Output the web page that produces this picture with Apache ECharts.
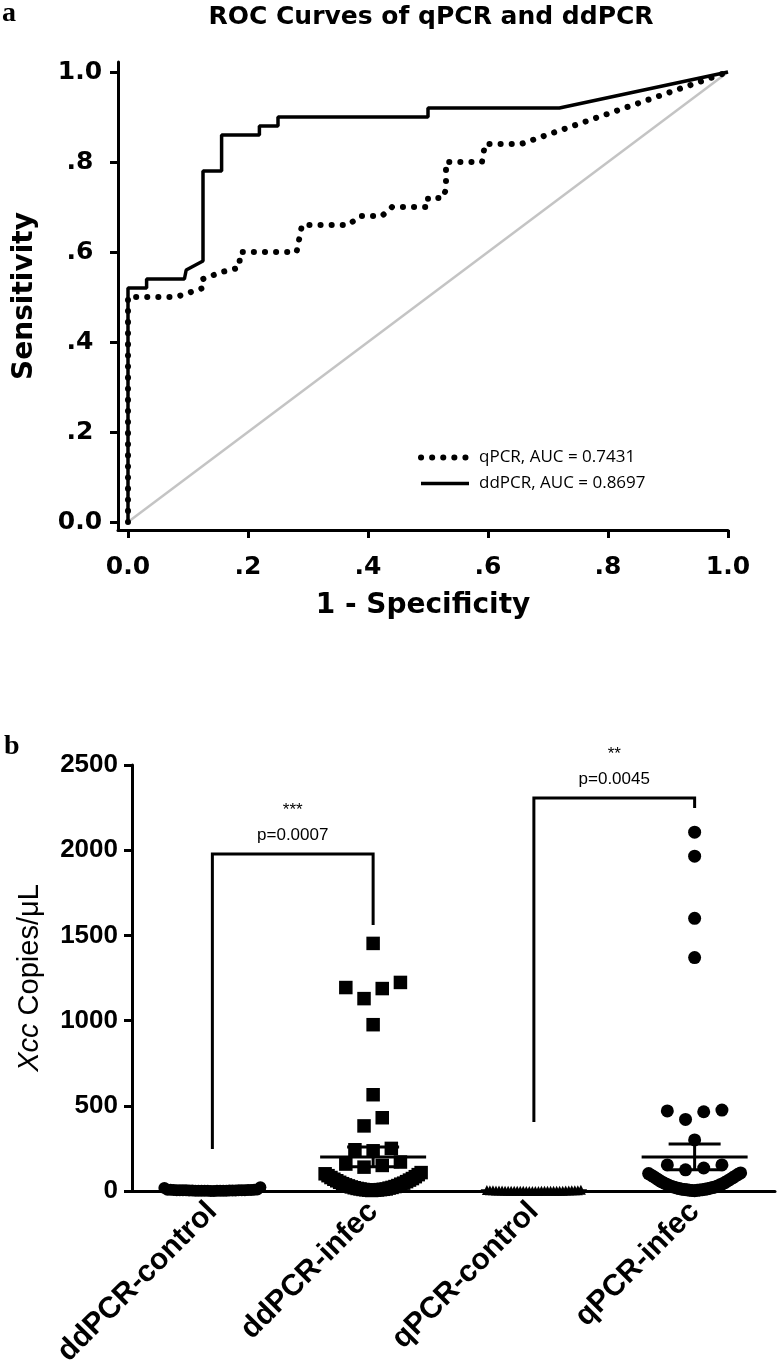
<!DOCTYPE html>
<html><head><meta charset="utf-8">
<script src="https://cdn.jsdelivr.net/npm/echarts@6/dist/echarts.min.js"></script>
<style>html,body{margin:0;padding:0;background:#fff}#c{width:779px;height:1370px}</style>
</head><body><div id="c"></div>
<script>
// ---------- Panel a : ROC curves ----------
const qpcrROC = [[0,0],[0,0.50],[0.08,0.50],[0.125,0.52],[0.125,0.54],[0.155,0.555],[0.185,0.565],[0.1875,0.60],[0.281,0.60],[0.29,0.66],[0.367,0.66],[0.387,0.68],[0.423,0.68],[0.44,0.70],[0.50,0.70],[0.50,0.72],[0.525,0.72],[0.53,0.74],[0.53,0.80],[0.59,0.80],[0.595,0.84],[0.655,0.84],[1,1]];
const ddpcrROC = [[0,0],[0,0.52],[0.031,0.52],[0.031,0.54],[0.094,0.54],[0.097,0.56],[0.125,0.58],[0.125,0.78],[0.156,0.78],[0.156,0.86],[0.219,0.86],[0.219,0.88],[0.25,0.88],[0.25,0.90],[0.5,0.90],[0.5,0.92],[0.719,0.92],[1,1]];
const chanceLine = [[0,0],[1,1]];
const rocTicks = [0,0.2,0.4,0.6,0.8,1.0];
const rocTickLabels = ['0.0','.2','.4','.6','.8','1.0'];
const rocNames = ['qPCR, AUC = 0.7431','ddPCR, AUC = 0.8697'];

// ---------- Panel b : copies per group ----------
const groups = ['ddPCR-control','ddPCR-infec','qPCR-control','qPCR-infec'];
const ddpcrControl = [0,0,1,1,1,1,2,2,2,2,2,3,3,3,3,3,4,4,4,4,5,5,5,6,6,6,7,7,8,9,18,22];
const ddpcrInfec = [3,5,5,6,7,8,9,10,12,12,15,17,19,21,24,26,30,32,36,40,43,46,51,55,60,64,69,73,79,84,90,96,101,108,
                    140,150,158,170,236,242,250,382,430,565,976,1129,1188,1194,1224,1453];
const qpcrControl = [0,0,0,0,0,1,1,1,1,1,1,1,1,2,2,2,2,2,2,2,3,3,3,3,3,4,4,4,5,5,6,8];
const qpcrInfec = [2,3,4,5,6,7,8,9,10,11,13,14,16,18,20,22,24,27,30,33,36,40,43,47,51,55,60,64,69,74,79,84,88,93,98,102,106,
                   124,135,153,153,300,420,465,470,475,1370,1600,1965,2106];
const groupMeans = [4, 200, 2, 200];
const groupSEM = [1, 58, 0.5, 76];
const yTicksB = [0,500,1000,1500,2000,2500];
const bracketLeft = [0, 2];
const bracketRight = [1, 3];
const bracketLeftEnd = [246, 405];
const bracketTop = [1978, 2306];
const bracketRightEnd = [1561, 2247];
const bracketStars = ['***', '**'];
const bracketP = ['p=0.0007', 'p=0.0045'];

// ---------- layout / style ----------
const W = 779, H = 1370;
const GA = {left:118, right:51, top:62, bottom:840};
const GB = {left:132, right:4, top:765, bottom:179};
const BAND = (W - GB.left - GB.right) / groups.length;
const UNITS_PER_PX = (yTicksB[yTicksB.length-1] - yTicksB[0]) / (H - GB.bottom - GB.top);
const FT = 'DejaVu Sans';
const FB = 'Liberation Sans';

// GraphPad-like scatter-dot arrangement: rows of near-equal values, spread centre-out
function swarm(values, gi, symPx, maxWidthPx) {
  const gapU = 11 * UNITS_PER_PX, spanU = 19 * UNITS_PER_PX;
  const s = values.slice().sort((a,b)=>a-b);
  const rows = []; let cur = null, prev = null;
  s.forEach(v => {
    if (!cur || v - prev > gapU || v - cur.start > spanU) { cur = {start:v, vals:[]}; rows.push(cur); }
    cur.vals.push(v); prev = v;
  });
  const out = [];
  rows.forEach(r => {
    const n = r.vals.length;
    const step = n > 1 ? Math.min(symPx * 1.4, maxWidthPx / (n - 1)) : 0;
    r.vals.forEach((v, i) => {
      let slot;
      if (n % 2 === 1) slot = i === 0 ? 0 : Math.ceil(i/2) * (i % 2 ? -1 : 1);
      else slot = (Math.floor(i/2) + 0.5) * (i % 2 ? 1 : -1);
      out.push([gi + slot * step / BAND, v]);
    });
  });
  return out;
}

const axisLine = {show:true, onZero:false, lineStyle:{color:'#000', width:3}};
const tick = {show:true, length:8, lineStyle:{color:'#000', width:3}};
const dot = {color:'#000', opacity:1};

const chart = echarts.init(document.getElementById('c'));
const option = {
  animation: false,
  backgroundColor: '#fff',
  graphic: [
    {type:'text', x:431, y:5, style:{text:'ROC Curves of qPCR and ddPCR', font:'bold 25px "DejaVu Sans"', fill:'#000', align:'center', verticalAlign:'top'}},
    {type:'text', x:2, y:0, style:{text:'a', font:'bold 28px "Liberation Serif"', fill:'#000', align:'left', verticalAlign:'top'}},
    {type:'text', x:4, y:733, style:{text:'b', font:'bold 28px "Liberation Serif"', fill:'#000', align:'left', verticalAlign:'top'}}
  ],
  legend: {
    data: rocNames, orient:'vertical', left:413, top:444, itemWidth:48, itemHeight:14, itemGap:9,
    textStyle:{fontFamily:'Open Sans', fontSize:17, color:'#000', padding:[0,0,0,5]},
    itemStyle:{opacity:0},
    lineStyle:{width:'inherit'}
  },
  grid: [GA, GB],
  xAxis: [
    {gridIndex:0, type:'value', min:-10/600, max:1, axisLine, splitLine:{show:false},
     axisTick:Object.assign({customValues:rocTicks}, tick),
     axisLabel:{customValues:rocTicks, formatter:v=>rocTickLabels[Math.round(v*5)], margin:25, color:'#000', fontFamily:FT, fontWeight:'bold', fontSize:25},
     name:'1 - Specificity', nameLocation:'middle', nameGap:62,
     nameTextStyle:{fontFamily:FT, fontWeight:'bold', fontSize:28, color:'#000'}},
    {gridIndex:1, type:'category', data:groups, boundaryGap:true, axisLine, axisTick:{show:false},
     axisLabel:{interval:0, rotate:45, margin:16, color:'#000', fontFamily:FB, fontWeight:'bold', fontSize:30}},
    {gridIndex:1, type:'value', min:-0.5, max:groups.length-0.5, show:false}
  ],
  yAxis: [
    {gridIndex:0, type:'value', min:-8/450, max:1+10/450, axisLine, splitLine:{show:false},
     axisTick:Object.assign({customValues:rocTicks}, tick),
     axisLabel:{customValues:rocTicks, formatter:v=>rocTickLabels[Math.round(v*5)], align:'center', margin:38, color:'#000', fontFamily:FT, fontWeight:'bold', fontSize:25},
     name:'Sensitivity', nameLocation:'middle', nameGap:79,
     nameTextStyle:{fontFamily:FT, fontWeight:'bold', fontSize:28, color:'#000'}},
    {gridIndex:1, type:'value', min:yTicksB[0], max:yTicksB[yTicksB.length-1], interval:500, axisLine, axisTick:tick, splitLine:{show:false},
     axisLabel:{formatter:v=>String(v), margin:14, color:'#000', fontFamily:FB, fontWeight:'bold', fontSize:26},
     name:'{i|Xcc} Copies/μL', nameLocation:'middle', nameGap:88,
     nameTextStyle:{fontFamily:FB, fontSize:29, color:'#000', rich:{i:{fontFamily:FB, fontSize:29, fontStyle:'italic', color:'#000'}}}}
  ],
  series: [
    {type:'line', xAxisIndex:0, yAxisIndex:0, data:chanceLine, symbol:'none', silent:true,
     lineStyle:{color:'#c4c4c4', width:2.5}},
    {type:'line', name:rocNames[1], xAxisIndex:0, yAxisIndex:0, data:ddpcrROC, symbol:'none',
     lineStyle:{color:'#000', width:3.5}, itemStyle:{color:'#000'}},
    {type:'line', name:rocNames[0], xAxisIndex:0, yAxisIndex:0, data:qpcrROC, symbol:'none',
     lineStyle:{color:'#000', width:6, type:[0.1, 11], cap:'round'}, itemStyle:{color:'#000'}},

    {type:'scatter', xAxisIndex:2, yAxisIndex:1, symbol:'circle', symbolSize:12, itemStyle:dot,
     data:swarm(ddpcrControl, 0, 12, 96), clip:false},
    {type:'scatter', xAxisIndex:2, yAxisIndex:1, symbol:'rect', symbolSize:13.5, itemStyle:dot,
     data:swarm(ddpcrInfec, 1, 13, 96), clip:false},
    {type:'scatter', xAxisIndex:2, yAxisIndex:1, symbol:'triangle', symbolSize:10, itemStyle:dot,
     data:swarm(qpcrControl, 2, 10, 94), clip:false},
    {type:'scatter', xAxisIndex:2, yAxisIndex:1, symbol:'circle', symbolSize:13, itemStyle:dot,
     data:swarm(qpcrInfec, 3, 13, 92), clip:false},

    {type:'custom', xAxisIndex:2, yAxisIndex:1, clip:false, z:5,
     data: groups.map((g,i)=>[i, groupMeans[i], groupSEM[i]]),
     encode:{x:0, y:1},
     renderItem:(params, api) => {
       const i = api.value(0), m = api.value(1), s = api.value(2);
       const pm = api.coord([i, m]), pt = api.coord([i, m+s]), pb = api.coord([i, m-s]);
       const st = {stroke:'#000', lineWidth:3};
       return {type:'group', children:[
         {type:'line', shape:{x1:pm[0]-53, y1:pm[1], x2:pm[0]+53, y2:pm[1]}, style:st},
         {type:'line', shape:{x1:pt[0], y1:pt[1], x2:pb[0], y2:pb[1]}, style:st},
         {type:'line', shape:{x1:pt[0]-26, y1:pt[1], x2:pt[0]+26, y2:pt[1]}, style:st},
         {type:'line', shape:{x1:pb[0]-26, y1:pb[1], x2:pb[0]+26, y2:pb[1]}, style:st}
       ]};
     }},
    {type:'custom', xAxisIndex:2, yAxisIndex:1, clip:false, z:5,
     data: bracketLeft.map((_,k)=>[bracketLeft[k], bracketRight[k], bracketLeftEnd[k], bracketTop[k], bracketRightEnd[k], k]),
     encode:{x:[0,1], y:[2,3,4]},
     renderItem:(params, api) => {
       const a = api.value(0), b = api.value(1), k = api.value(5);
       const p1 = api.coord([a, api.value(2)]), p2 = api.coord([a, api.value(3)]);
       const p3 = api.coord([b, api.value(3)]), p4 = api.coord([b, api.value(4)]);
       const mx = (p2[0] + p3[0]) / 2;
       return {type:'group', children:[
         {type:'polyline', shape:{points:[p1,p2,p3,p4]}, style:{stroke:'#000', lineWidth:3, fill:null}},
         {type:'text', style:{text:bracketP[k], x:mx, y:p2[1]-19, align:'center', verticalAlign:'middle', font:'17px "Liberation Sans"', fill:'#000'}},
         {type:'text', style:{text:bracketStars[k], x:mx, y:p2[1]-44, align:'center', verticalAlign:'middle', font:'17px "Liberation Sans"', fill:'#000'}}
       ]};
     }}
  ]
};
chart.setOption(option);
</script>
</body></html>
